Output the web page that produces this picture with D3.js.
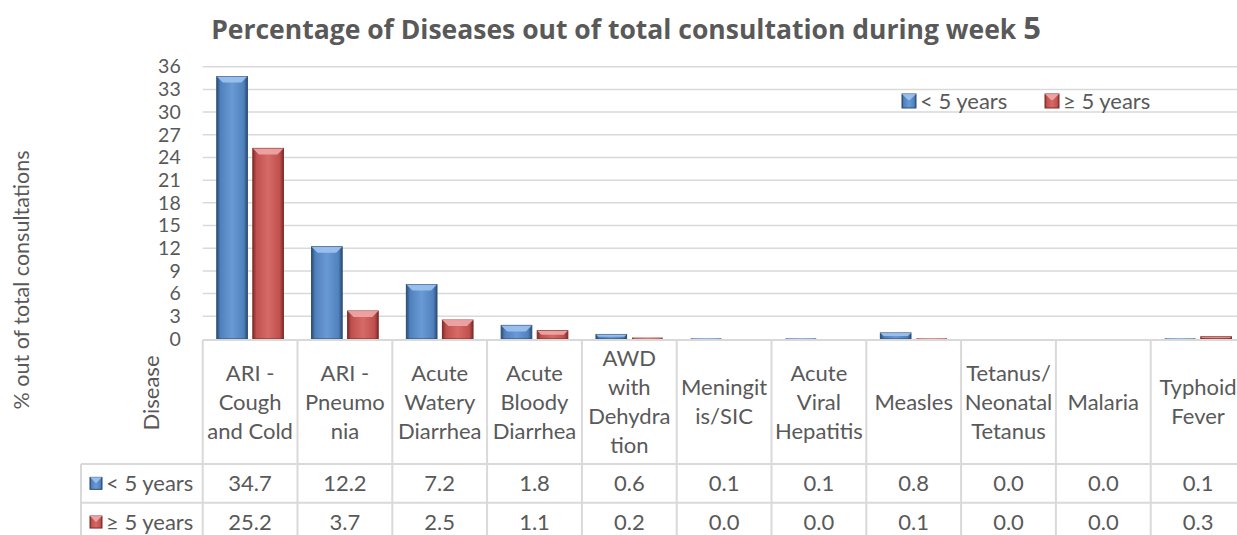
<!DOCTYPE html>
<html>
<head>
<meta charset="utf-8">
<script src="https://cdn.jsdelivr.net/npm/d3@7"></script>
<style>
  body { margin: 0; background: #fff; }
  svg { display: block; font-family: Lato, "Open Sans", sans-serif; }
</style>
</head>
<body>
<div id="chart"></div>
<script>
// chart data
const categories = [
  ["ARI -", "Cough", "and Cold"],
  ["ARI -", "Pneumo", "nia"],
  ["Acute", "Watery", "Diarrhea"],
  ["Acute", "Bloody", "Diarrhea"],
  ["AWD", "with", "Dehydra", "tion"],
  ["Meningit", "is/SIC"],
  ["Acute", "Viral", "Hepatitis"],
  ["Measles"],
  ["Tetanus/", "Neonatal", "Tetanus"],
  ["Malaria"],
  ["Typhoid", "Fever"]
];
const seriesNames = ["< 5 years", "\u2265 5 years"];
const under5 = [34.7, 12.2, 7.2, 1.8, 0.6, 0.1, 0.1, 0.8, 0.0, 0.0, 0.1];
const over5 = [25.2, 3.7, 2.5, 1.1, 0.2, 0.0, 0.0, 0.1, 0.0, 0.0, 0.3];
const yTicks = d3.range(0, 37, 3);

const width = 1237, height = 535;
const textColor = "#595959";
const gridColor = "#d9d9d9";
const fs = 22;

const palette = [
  {base: "#4f81bd", dark: "#2c4d75", light: "#9dc3ef", mid: "#6a9ad4"},
  {base: "#c0504d", dark: "#7f2c2a", light: "#f0a9a7", mid: "#d66a67"}
];

const svg = d3.select("#chart").append("svg")
    .attr("width", width)
    .attr("height", height);

const defs = svg.append("defs");
palette.forEach((p, i) => {
  const g = defs.append("linearGradient").attr("id", `grad-${i}`)
      .attr("x1", 0).attr("x2", 1).attr("y1", 0).attr("y2", 0);
  g.append("stop").attr("offset", "0%").attr("stop-color", p.dark);
  g.append("stop").attr("offset", "12%").attr("stop-color", p.base);
  g.append("stop").attr("offset", "50%").attr("stop-color", p.mid);
  g.append("stop").attr("offset", "88%").attr("stop-color", p.base);
  g.append("stop").attr("offset", "100%").attr("stop-color", p.dark);
});

const plotLeft = 202.7, colW = 94.8;
const x = d3.scaleBand()
    .domain(d3.range(categories.length))
    .range([plotLeft, plotLeft + colW * categories.length]);
const xs = d3.scaleBand()
    .domain([0, 1])
    .range([0, x.bandwidth()])
    .paddingInner(0.15)
    .paddingOuter(0.39);
const y = d3.scaleLinear().domain([0, 36]).range([339, 66.7]);

// title
const title = svg.append("text")
    .attr("x", 626).attr("y", 39)
    .attr("text-anchor", "middle")
    .attr("fill", textColor)
    .attr("font-family", "'Open Sans', sans-serif")
    .attr("font-weight", "bold")
    .attr("font-size", 26.5);
title.append("tspan").text("Percentage of Diseases out of total consultation during week ");
title.append("tspan").attr("font-size", 31).text("5");

// gridlines
svg.append("g")
    .selectAll("line")
    .data(yTicks.slice(1))
    .join("line")
    .attr("x1", plotLeft).attr("x2", width)
    .attr("y1", d => y(d)).attr("y2", d => y(d))
    .attr("stroke", gridColor).attr("stroke-width", 1.5);

// y axis
svg.append("g")
    .attr("transform", `translate(${plotLeft},0)`)
    .call(d3.axisLeft(y).tickValues(yTicks).tickSize(0).tickPadding(22))
    .call(g => g.select(".domain").remove())
    .call(g => g.selectAll("text")
        .attr("fill", textColor)
        .attr("font-size", 19.5)
        .attr("font-family", "Lato, sans-serif"));

svg.append("text")
    .attr("transform", "translate(21,280) rotate(-90)")
    .attr("text-anchor", "middle")
    .attr("dominant-baseline", "central")
    .attr("fill", textColor)
    .attr("font-size", 21.5)
    .text("% out of total consultations");

// bars
const series = [under5, over5];
function drawBar(g, bx, by, bw, bh, p, i) {
  if (bh <= 0) return;
  g.append("rect")
      .attr("x", bx).attr("y", by).attr("width", bw).attr("height", bh)
      .attr("fill", `url(#grad-${i})`)
      .attr("stroke", bh > 2 ? p.dark : "none").attr("stroke-width", 1);
  const b = Math.min(6, bh / 2, bw / 2);
  g.append("polygon")
      .attr("points", [[bx, by], [bx + bw, by], [bx + bw - b, by + b], [bx + b, by + b]].join(" "))
      .attr("fill", p.light)
      .attr("opacity", 0.9);
}
const barG = svg.append("g");
series.forEach((vals, i) => {
  vals.forEach((v, c) => {
    const bx = x(c) + xs(i);
    drawBar(barG, bx, y(v), xs.bandwidth(), y(0) - y(v), palette[i], i);
  });
});

// legend
const legend = svg.append("g").attr("transform", "translate(902,101)");
seriesNames.forEach((name, i) => {
  const lg = legend.append("g").attr("transform", `translate(${i * 143},0)`);
  drawBar(lg, 0, -7, 14, 14, palette[i], i);
  lg.append("text")
      .attr("x", 18).attr("dy", "0.35em")
      .attr("fill", textColor).attr("font-size", fs)
      .text(name);
});

// data table
const tableTop = 340, headBottom = 464, rowH = 38.7;
const tableLeft = 81;
const tableRight = x.range()[1];
const tg = svg.append("g").attr("stroke", gridColor).attr("stroke-width", 2);
// horizontal lines
tg.append("line").attr("x1", plotLeft).attr("x2", tableRight).attr("y1", tableTop).attr("y2", tableTop);
[headBottom, headBottom + rowH, headBottom + 2 * rowH].forEach(yy => {
  tg.append("line").attr("x1", tableLeft).attr("x2", tableRight).attr("y1", yy).attr("y2", yy);
});
// vertical lines
tg.append("line").attr("x1", tableLeft).attr("x2", tableLeft).attr("y1", headBottom).attr("y2", height);
x.domain().concat([categories.length]).forEach(c => {
  const xx = c < categories.length ? x(c) : tableRight;
  tg.append("line").attr("x1", xx).attr("x2", xx).attr("y1", tableTop).attr("y2", height);
});

// header labels
const lineH = 29;
const headMid = (tableTop + headBottom) / 2;
categories.forEach((lines, c) => {
  const t = svg.append("text")
      .attr("text-anchor", "middle")
      .attr("fill", textColor)
      .attr("font-size", fs);
  lines.forEach((ln, k) => {
    t.append("tspan")
        .attr("x", x(c) + x.bandwidth() / 2)
        .attr("y", headMid + (k - (lines.length - 1) / 2) * lineH)
        .attr("dy", "0.35em")
        .text(ln);
  });
});

svg.append("text")
    .attr("transform", `translate(150,${headMid - 9}) rotate(-90)`)
    .attr("text-anchor", "middle")
    .attr("dominant-baseline", "central")
    .attr("fill", textColor)
    .attr("font-size", fs)
    .text("Disease");

// value rows
series.forEach((vals, i) => {
  const cy = headBottom + rowH * i + rowH / 2;
  drawBar(svg.append("g"), 90, cy - 6, 12, 12, palette[i], i);
  svg.append("text")
      .attr("x", 106).attr("y", cy).attr("dy", "0.35em")
      .attr("fill", textColor).attr("font-size", fs)
      .text(seriesNames[i]);
  vals.forEach((v, c) => {
    svg.append("text")
        .attr("x", x(c) + x.bandwidth() / 2).attr("y", cy).attr("dy", "0.35em")
        .attr("text-anchor", "middle")
        .attr("fill", textColor).attr("font-size", fs)
        .text(d3.format(".1f")(v));
  });
});
</script>
</body>
</html>
